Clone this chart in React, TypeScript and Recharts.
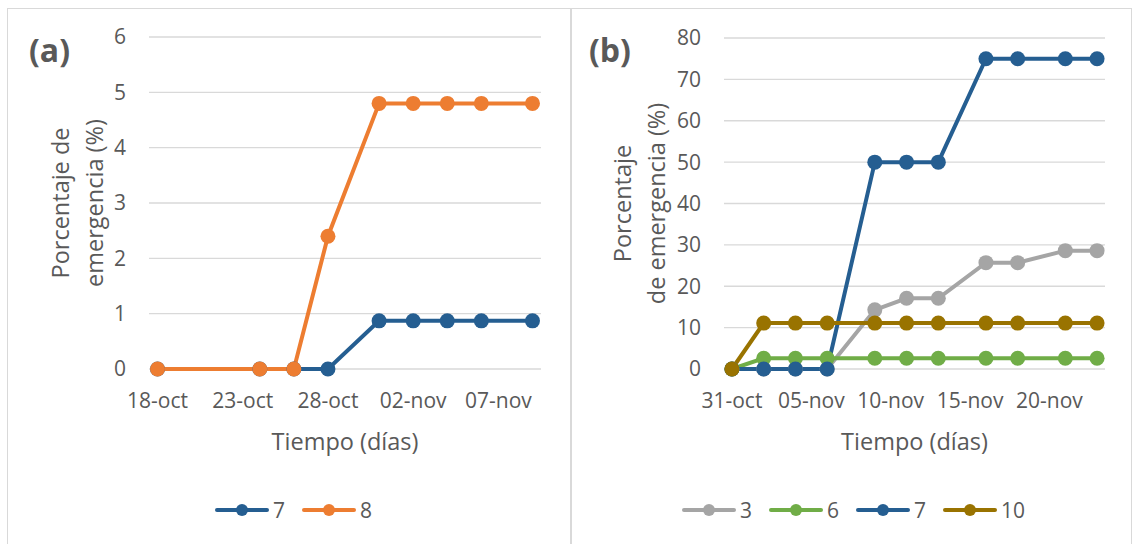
import React from "react";
import { LineChart, Line, XAxis, YAxis, CartesianGrid, Legend } from "recharts";

const MESES = ["ene", "feb", "mar", "abr", "may", "jun", "jul", "ago", "sep", "oct", "nov", "dic"];

// (a) fechas de muestreo y emergencia acumulada
const fechasA = ["18-oct", "24-oct", "26-oct", "28-oct", "31-oct", "02-nov", "04-nov", "06-nov", "09-nov"];
const serieA7 = [0, 0, 0, 0, 0.87, 0.87, 0.87, 0.87, 0.87];
const serieA8 = [0, 0, 0, 2.4, 4.8, 4.8, 4.8, 4.8, 4.8];
const rangoA = ["18-oct", "09-nov"];
const ticksFechaA = ["18-oct", "23-oct", "28-oct", "02-nov", "07-nov"];
const ticksValorA = [0, 1, 2, 3, 4, 5, 6];

// (b)
const fechasB = ["31-oct", "02-nov", "04-nov", "06-nov", "09-nov", "11-nov", "13-nov", "16-nov", "18-nov", "21-nov", "23-nov"];
const serieB3 = [0, 0, 0, 0, 14.3, 17.1, 17.1, 25.7, 25.7, 28.6, 28.6];
const serieB6 = [0, 2.6, 2.6, 2.6, 2.6, 2.6, 2.6, 2.6, 2.6, 2.6, 2.6];
const serieB7 = [0, 0, 0, 0, 50, 50, 50, 75, 75, 75, 75];
const serieB10 = [0, 11.1, 11.1, 11.1, 11.1, 11.1, 11.1, 11.1, 11.1, 11.1, 11.1];
const rangoB = ["31-oct", "23-nov"];
const ticksFechaB = ["31-oct", "05-nov", "10-nov", "15-nov", "20-nov"];
const ticksValorB = [0, 10, 20, 30, 40, 50, 60, 70, 80];

const TEXTO = "#595959";
const GRID = "#d9d9d9";
const FUENTE = "'Open Sans', sans-serif";

const aDia = (s: string) => {
  const [d, m] = s.split("-");
  return Date.UTC(2000, MESES.indexOf(m), Number(d)) / 86400000;
};
const aFecha = (n: number) => {
  const dt = new Date(Math.round(n) * 86400000);
  return `${String(dt.getUTCDate()).padStart(2, "0")}-${MESES[dt.getUTCMonth()]}`;
};

const datosA = fechasA.map((f, i) => ({ t: aDia(f), s7: serieA7[i], s8: serieA8[i] }));
const datosB = fechasB.map((f, i) => ({
  t: aDia(f),
  s3: serieB3[i],
  s6: serieB6[i],
  s7: serieB7[i],
  s10: serieB10[i],
}));

// leyenda en el orden de las series (por número)
const Leyenda = ({ payload }: any) => {
  const items = [...(payload || [])].sort((p: any, q: any) => Number(p.value) - Number(q.value));
  return (
    <div style={{ display: "flex", alignItems: "center", height: 30, fontFamily: FUENTE }}>
      {items.map((it: any) => (
        <div key={it.value} style={{ display: "flex", alignItems: "center", marginRight: 17 }}>
          <svg width={54} height={16}>
            <line x1={2} y1={8} x2={52} y2={8} stroke={it.color} strokeWidth={4} strokeLinecap="round" />
            <circle cx={27} cy={8} r={6} fill={it.color} />
          </svg>
          <span style={{ marginLeft: 4, fontSize: 21, color: TEXTO, lineHeight: "30px" }}>{it.value}</span>
        </div>
      ))}
    </div>
  );
};

const tituloY = (lineas: string[], offs: number[]) => (props: any) => {
  const vb = props.viewBox;
  const cy = vb.y + vb.height / 2;
  const left = vb.x + vb.width;
  return (
    <g>
      {lineas.map((l, i) => (
        <text
          key={l}
          x={left + offs[i]}
          y={cy}
          transform={`rotate(-90 ${left + offs[i]} ${cy})`}
          textAnchor="middle"
          dominantBaseline="central"
          fill={TEXTO}
          fontSize={23.5}
          fontFamily={FUENTE}
        >
          {l}
        </text>
      ))}
    </g>
  );
};

const tituloX = (props: any) => {
  const vb = props.viewBox;
  return (
    <text
      x={vb.x + vb.width / 2}
      y={vb.y + 72}
      textAnchor="middle"
      dominantBaseline="central"
      fill={TEXTO}
      fontSize={23.5}
      fontFamily={FUENTE}
    >
      Tiempo (días)
    </text>
  );
};

const punto = (c: string) => ({ r: 7.5, fill: c, stroke: c, strokeWidth: 0 });
const tick = { fill: TEXTO, fontSize: 21, fontFamily: FUENTE };

const panel = {
  position: "absolute" as const,
  top: 8,
  height: 540,
  border: `1px solid ${GRID}`,
  boxSizing: "border-box" as const,
  background: "#fff",
};

const etiqueta = {
  position: "absolute" as const,
  fontFamily: FUENTE,
  fontWeight: 700,
  fontSize: 32,
  color: TEXTO,
  lineHeight: "42px",
};

export default function App() {
  const [a0, a1] = rangoA.map(aDia);
  const [b0, b1] = rangoB.map(aDia);
  return (
    <div style={{ position: "absolute", left: 0, top: 0, width: 1134, height: 544, overflow: "hidden", background: "#fff", fontFamily: FUENTE }}>
      <div style={{ ...panel, left: 7, width: 564 }}>
        <LineChart width={562} height={538} data={datosA} margin={{ top: 28, right: 29, left: 81, bottom: 22 }}>
          <CartesianGrid horizontal vertical={false} stroke={GRID} strokeWidth={1.3} />
          <XAxis
            dataKey="t"
            type="number"
            domain={[a0 - 0.5, a1 + 0.5]}
            ticks={ticksFechaA.map(aDia)}
            tickFormatter={aFecha}
            axisLine={false}
            tickLine={false}
            tickSize={0}
            tickMargin={24}
            tick={tick}
            height={126}
            label={{ content: tituloX }}
          />
          <YAxis
            type="number"
            domain={[0, 6]}
            ticks={ticksValorA}
            axisLine={false}
            tickLine={false}
            tickSize={0}
            tickMargin={23}
            tick={tick}
            width={60}
            label={{ content: tituloY(["Porcentaje de", "emergencia (%)"], [-89, -55]) }}
          />
          <Legend content={Leyenda} verticalAlign="bottom" wrapperStyle={{ left: 207, width: 300 }} />
          <Line name="7" dataKey="s7" stroke="#255e91" strokeWidth={4} dot={punto("#255e91")} activeDot={false} isAnimationActive={false} />
          <Line name="8" dataKey="s8" stroke="#ed7d31" strokeWidth={4} dot={punto("#ed7d31")} activeDot={false} isAnimationActive={false} />
        </LineChart>
        <div style={{ ...etiqueta, left: 21, top: 20 }}>(a)</div>
      </div>

      <div style={{ ...panel, left: 571, width: 561 }}>
        <LineChart width={559} height={538} data={datosB} margin={{ top: 29, right: 26, left: 92, bottom: 22 }}>
          <CartesianGrid horizontal vertical={false} stroke={GRID} strokeWidth={1.3} />
          <XAxis
            dataKey="t"
            type="number"
            domain={[b0 - 0.5, b1 + 0.5]}
            ticks={ticksFechaB.map(aDia)}
            tickFormatter={aFecha}
            axisLine={false}
            tickLine={false}
            tickSize={0}
            tickMargin={24}
            tick={tick}
            height={126}
            label={{ content: tituloX }}
          />
          <YAxis
            type="number"
            domain={[0, 80]}
            ticks={ticksValorB}
            axisLine={false}
            tickLine={false}
            tickSize={0}
            tickMargin={23}
            tick={tick}
            width={60}
            label={{ content: tituloY(["Porcentaje", "de emergencia (%)"], [-102, -68]) }}
          />
          <Legend content={Leyenda} verticalAlign="bottom" wrapperStyle={{ left: 110, width: 420 }} />
          <Line name="3" dataKey="s3" stroke="#a5a5a5" strokeWidth={4} dot={punto("#a5a5a5")} activeDot={false} isAnimationActive={false} />
          <Line name="6" dataKey="s6" stroke="#70ad47" strokeWidth={4} dot={punto("#70ad47")} activeDot={false} isAnimationActive={false} />
          <Line name="7" dataKey="s7" stroke="#255e91" strokeWidth={4} dot={punto("#255e91")} activeDot={false} isAnimationActive={false} />
          <Line name="10" dataKey="s10" stroke="#997300" strokeWidth={4} dot={punto("#997300")} activeDot={false} isAnimationActive={false} />
        </LineChart>
        <div style={{ ...etiqueta, left: 17, top: 20 }}>(b)</div>
      </div>
    </div>
  );
}
